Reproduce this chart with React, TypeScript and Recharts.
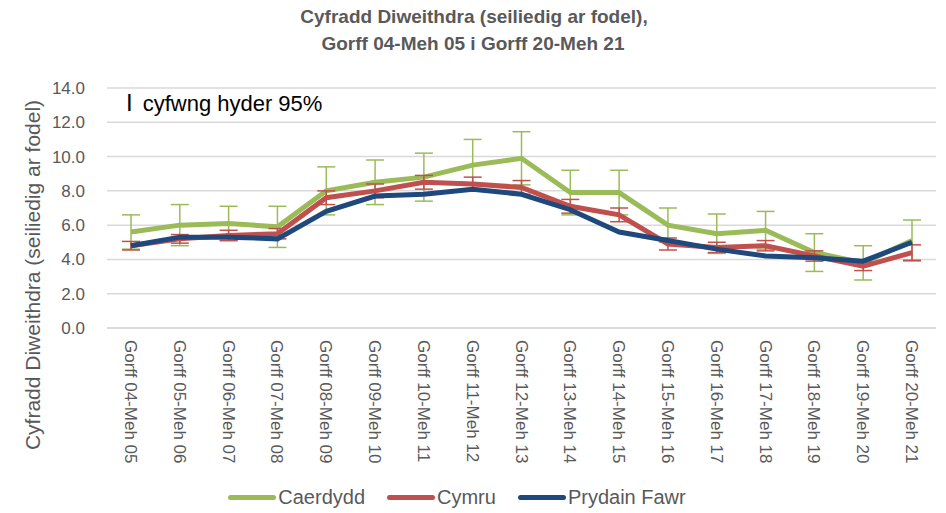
import React from 'react';
import { LineChart, Line, XAxis, YAxis, CartesianGrid, ErrorBar } from 'recharts';

const categories = [
  'Gorff 04-Meh 05', 'Gorff 05-Meh 06', 'Gorff 06-Meh 07', 'Gorff 07-Meh 08', 'Gorff 08-Meh 09',
  'Gorff 09-Meh 10', 'Gorff 10-Meh 11', 'Gorff 11-Meh 12', 'Gorff 12-Meh 13', 'Gorff 13-Meh 14',
  'Gorff 14-Meh 15', 'Gorff 15-Meh 16', 'Gorff 16-Meh 17', 'Gorff 17-Meh 18', 'Gorff 18-Meh 19',
  'Gorff 19-Meh 20', 'Gorff 20-Meh 21',
];
const caerdydd = [5.6, 6.0, 6.1, 5.9, 8.0, 8.5, 8.8, 9.5, 9.9, 7.9, 7.9, 6.0, 5.5, 5.7, 4.4, 3.8, 5.1];
const caerdyddErr = [1.0, 1.2, 1.0, 1.2, 1.4, 1.3, 1.4, 1.5, 1.55, 1.3, 1.3, 1.0, 1.15, 1.1, 1.1, 1.0, 1.2];
const cymru = [4.8, 5.2, 5.4, 5.5, 7.6, 8.0, 8.5, 8.4, 8.2, 7.1, 6.6, 4.9, 4.7, 4.8, 4.2, 3.6, 4.4];
const cymruErr = [0.25, 0.25, 0.3, 0.3, 0.4, 0.4, 0.4, 0.4, 0.4, 0.4, 0.4, 0.35, 0.3, 0.3, 0.3, 0.25, 0.45];
const prydainFawr = [4.8, 5.3, 5.3, 5.2, 6.8, 7.7, 7.8, 8.1, 7.8, 6.9, 5.6, 5.1, 4.6, 4.2, 4.1, 3.9, 5.0];
const yTicks = [0, 2, 4, 6, 8, 10, 12, 14];

const data = categories.map((c, i) => ({
  name: c,
  caerdydd: caerdydd[i],
  caerdyddErr: caerdyddErr[i],
  cymru: cymru[i],
  cymruErr: cymruErr[i],
  prydain: prydainFawr[i],
}));

if (typeof document !== 'undefined') {
  document.documentElement.style.overflow = 'hidden';
  document.body.style.margin = '0';
}

const FONT = '"Liberation Sans", Arial, sans-serif';
const GREY = '#595959';
const GREEN = '#9BBB59';
const RED = '#C0504D';
const BLUE = '#1F497D';

const XTick = (props: any) => {
  const { x, y, payload } = props;
  return (
    <text
      transform={`translate(${x},${y + 4}) rotate(90)`}
      dy="0.35em"
      textAnchor="start"
      fontSize={17}
      fill={GREY}
      fontFamily={FONT}
    >
      {payload.value}
    </text>
  );
};

const YTick = (props: any) => {
  const { x, y, payload } = props;
  return (
    <text x={x - 14} y={y} dy="0.35em" textAnchor="end" fontSize={17} fill={GREY} fontFamily={FONT}>
      {Number(payload.value).toFixed(1)}
    </text>
  );
};

const legendItems = [
  { label: 'Caerdydd', color: GREEN },
  { label: 'Cymru', color: RED },
  { label: 'Prydain Fawr', color: BLUE },
];

export default function App() {
  return (
    <div style={{ position: 'relative', width: 946, height: 513, overflow: 'hidden', background: '#fff' }}>
      <div
        style={{
          position: 'absolute',
          top: 3,
          left: 0,
          width: 946,
          textAlign: 'center',
          fontFamily: FONT,
          fontWeight: 'bold',
          fontSize: 19,
          lineHeight: '27px',
          color: GREY,
        }}
      >
        <div style={{ marginLeft: 2 }}>Cyfradd Diweithdra (seiliedig ar fodel),</div>
        <div>Gorff 04-Meh 05 i Gorff 20-Meh 21</div>
      </div>
      <div
        style={{
          position: 'absolute',
          top: 89,
          left: 126,
          fontFamily: FONT,
          color: '#000',
          whiteSpace: 'nowrap',
          display: 'flex',
          alignItems: 'baseline',
        }}
      >
        <span style={{ fontSize: 24 }}>I</span>
        <span style={{ fontSize: 22, marginLeft: 10 }}>cyfwng hyder</span>
        <span style={{ fontSize: 22, marginLeft: 6 }}>95%</span>
      </div>
      <div
        style={{
          position: 'absolute',
          left: 33,
          top: 275,
          transform: 'translate(-50%, -50%) rotate(-90deg)',
          fontFamily: FONT,
          fontSize: 21,
          color: GREY,
          whiteSpace: 'nowrap',
        }}
      >
        Cyfradd Diweithdra (seiliedig ar fodel)
      </div>
      <LineChart
        width={946}
        height={513}
        data={data}
        margin={{ top: 88, right: 10, left: 0, bottom: 29 }}
      >
        <CartesianGrid vertical={false} stroke="#d9d9d9" strokeWidth={1.5} />
        <XAxis
          dataKey="name"
          interval={0}
          tick={<XTick />}
          tickLine={false}
          axisLine={{ stroke: '#d9d9d9', strokeWidth: 1.5 }}
          height={156}
          padding={{ left: 24, right: 24 }}
        />
        <YAxis
          domain={[0, 14]}
          ticks={yTicks}
          tick={<YTick />}
          tickLine={false}
          axisLine={false}
          width={107}
        />
        <Line dataKey="caerdydd" name="Caerdydd" stroke={GREEN} strokeWidth={5} dot={false} isAnimationActive={false}>
          <ErrorBar dataKey="caerdyddErr" width={9} stroke={GREEN} strokeWidth={1.5} direction="y" isAnimationActive={false} />
        </Line>
        <Line dataKey="cymru" name="Cymru" stroke={RED} strokeWidth={5} dot={false} isAnimationActive={false}>
          <ErrorBar dataKey="cymruErr" width={9} stroke={RED} strokeWidth={1.5} direction="y" isAnimationActive={false} />
        </Line>
        <Line dataKey="prydain" name="Prydain Fawr" stroke={BLUE} strokeWidth={5} dot={false} isAnimationActive={false} />
      </LineChart>
      <div
        style={{
          position: 'absolute',
          top: 483,
          left: 0,
          width: 946,
          display: 'flex',
          justifyContent: 'center',
          alignItems: 'center',
          height: 28,
          paddingRight: 10,
          boxSizing: 'border-box',
        }}
      >
        {legendItems.map((it) => (
          <div key={it.label} style={{ display: 'flex', alignItems: 'center', marginRight: 22 }}>
            <div style={{ width: 48, height: 5, background: it.color, borderRadius: 3 }} />
            <span style={{ fontFamily: FONT, fontSize: 20, lineHeight: '28px', color: GREY, marginLeft: 2 }}>{it.label}</span>
          </div>
        ))}
      </div>
    </div>
  );
}
